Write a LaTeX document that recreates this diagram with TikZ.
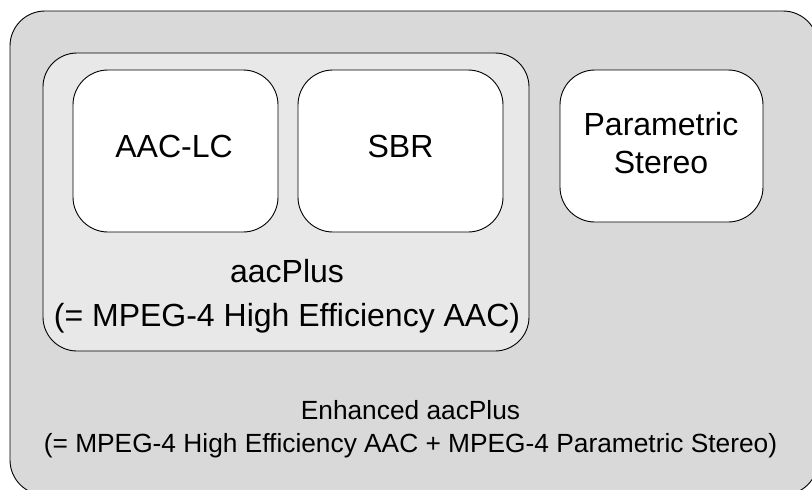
\documentclass[tikz,border=0pt]{standalone}
\usepackage{fontspec}
\setmainfont{Liberation Sans}
\definecolor{outerfill}{HTML}{D9D9D9}
\definecolor{midfill}{HTML}{E8E8E8}
\tikzset{
  box/.style={draw=black, line width=0.9pt, rounded corners=#1},
  bigtxt/.style={font=\fontsize{32}{38}\selectfont, anchor=base, inner sep=0pt},
  smalltxt/.style={font=\fontsize{26.3}{32}\selectfont, anchor=base, inner sep=0pt}
}
\begin{document}
\begin{tikzpicture}[x=1pt,y=-1pt]
\useasboundingbox (0,0) rectangle (812,490);
\clip (0,0) rectangle (812,490);
\fill[white] (0,0) rectangle (812,490);
% outer box
\draw[box=35pt, fill=outerfill] (10,11) rectangle (818,495);
% aacPlus box
\draw[box=34pt, fill=midfill] (43,53) rectangle (529,351);
% inner boxes
\node[box=35pt, fill=white, minimum width=205pt, minimum height=162pt, inner sep=0pt] (aaclc) at (175.5,151) {};
\node[box=35pt, fill=white, minimum width=205pt, minimum height=162pt, inner sep=0pt] (sbr) at (400.5,151) {};
\node[box=35pt, fill=white, minimum width=203pt, minimum height=152pt, inner sep=0pt] (ps) at (661.5,146) {};
% texts
\node[bigtxt] (t1) at (174,157) {AAC-LC};
\node[bigtxt] (t2) at (400.5,157) {SBR};
\node[bigtxt] (t3) at (661,135) {Parametric};
\node[bigtxt] (t4) at (661,173) {Stereo};
\node[bigtxt] (t5) at (287,282) {aacPlus};
\node[bigtxt] (t6) at (287,326) {(= MPEG-4 High Efficiency AAC)};
\node[smalltxt] (t7) at (410.5,419) {Enhanced aacPlus};
\node[smalltxt] (t8) at (410.5,452) {(= MPEG-4 High Efficiency AAC + MPEG-4 Parametric Stereo)};
\end{tikzpicture}
\end{document}
